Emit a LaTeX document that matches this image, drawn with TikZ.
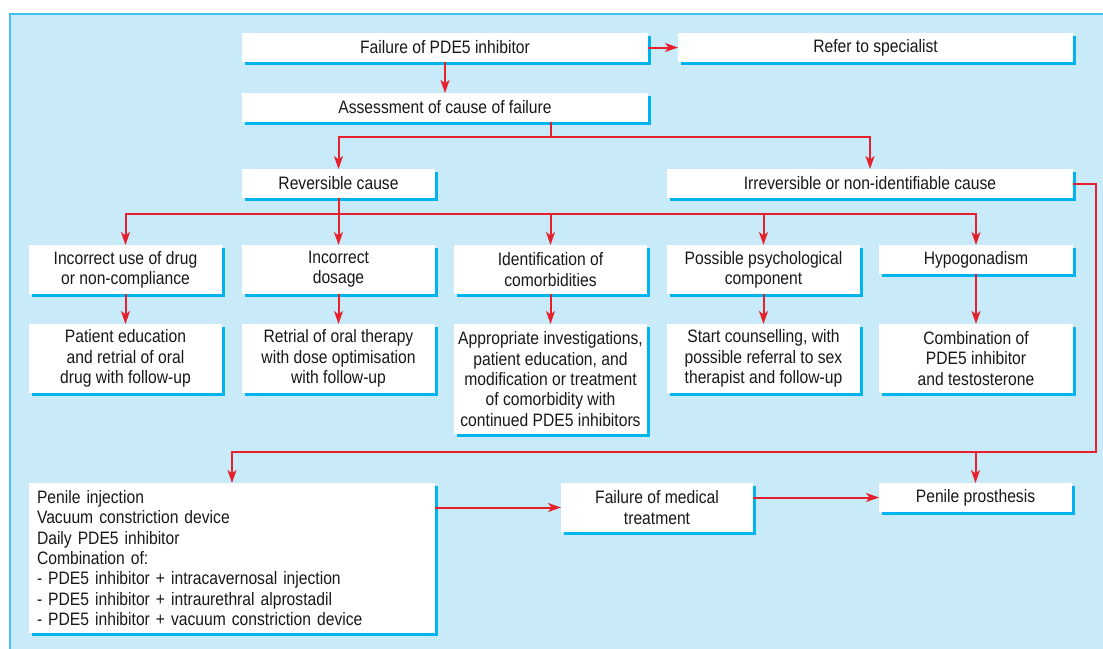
\documentclass[tikz,border=0pt]{standalone}
\usepackage{fontspec}
\setmainfont{Liberation Sans}[FakeStretch=0.87]
\usepackage{tikz}
\usetikzlibrary{calc}
\usetikzlibrary{shadows}
\usetikzlibrary{arrows.meta}
\definecolor{panelblue}{HTML}{C8EAF9}
\definecolor{panelline}{HTML}{3EC3F2}
\definecolor{shadecyan}{HTML}{00B5EF}
\definecolor{flowred}{HTML}{E6202C}
\definecolor{inkgray}{HTML}{1A1718}

\begin{document}
\begin{tikzpicture}[x=1pt,y=-1pt,
    every node/.style={inner sep=0,outer sep=0,text=inkgray,font=\fontsize{18}{20.3}\selectfont},
    box/.style={anchor=north west,fill=white,align=center,drop shadow={shadow xshift=3pt,shadow yshift=-3pt,fill=shadecyan,opacity=1}},
    link/.style={draw=flowred,line width=2pt},
    arr/.style={link,-{Stealth[length=13pt,width=9pt,inset=3.5pt]}}]
    \useasboundingbox (0,0) rectangle (1103,648);
    \clip (0,0) rectangle (1103,648);
    \fill[panelblue] (10,14) rectangle (1120,670);
    \draw[panelline,line width=1.8pt] (10,670) -- (10,14) -- (1120,14);

    \node[box, minimum width=406, minimum height=29](fail) at (242,33) {Failure of PDE5 inhibitor};
    \node[box, minimum width=395, minimum height=29](refer) at (678,33) {Refer to specialist};
    \node[box, minimum width=406, minimum height=29](assess) at (242,93) {Assessment of cause of failure};
    \node[box, minimum width=193, minimum height=29](rev) at (242,169) {Reversible cause};
    \node[box, minimum width=406, minimum height=29](irr) at (667,169) {Irreversible or non-identifiable cause};

    \node[box, minimum width=193, minimum height=49](c1) at (29,245) {Incorrect use of drug\\or non-compliance};
    \node[box, minimum width=193, minimum height=49](c2) at (242,245) {Incorrect\\dosage};
    \node[box, minimum width=193, minimum height=49](c3) at (454,245) {Identification of\\comorbidities};
    \node[box, minimum width=193, minimum height=49](c4) at (667,245) {Possible psychological\\component};
    \node[box, minimum width=194, minimum height=29](c5) at (879,245) {Hypogonadism};

    \node[box, minimum width=193, minimum height=69](t1) at (29,324) {Patient education\\and retrial of oral\\drug with follow-up};
    \node[box, minimum width=193, minimum height=69](t2) at (242,324) {Retrial of oral therapy\\with dose optimisation\\with follow-up};
    \node[box, minimum width=193, minimum height=110](t3) at (454,324) {Appropriate investigations,\\patient education, and\\modification or treatment\\of comorbidity with\\continued PDE5 inhibitors};
    \node[box, minimum width=193, minimum height=69](t4) at (667,324) {Start counselling, with\\possible referral to sex\\therapist and follow-up};
    \node[box, minimum width=194, minimum height=69](t5) at (879,324) {Combination of\\PDE5 inhibitor\\and testosterone};

    \node[box, align=left, text width=390, minimum height=150, inner xsep=8](inj) at (29,483) {Penile injection\\Vacuum constriction device\\Daily PDE5 inhibitor\\Combination of:\\- PDE5 inhibitor + intracavernosal injection\\- PDE5 inhibitor + intraurethral alprostadil\\- PDE5 inhibitor + vacuum constriction device};
    \node[box, minimum width=192, minimum height=49](medf) at (561,483) {Failure of medical\\treatment};
    \node[box, minimum width=193, minimum height=29](pros) at (879,483) {Penile prosthesis};

    \draw[arr] (fail.east) -- (refer.west);
    \draw[arr] (fail.south) -- (assess.north);
    \coordinate (asplit) at ($(assess.south -| c3.north)+(0,15)$);
    \draw[link] (assess.south -| c3.north) -- (asplit);
    \draw[arr] (asplit) -| (rev.north);
    \draw[arr] (asplit) -| (irr.north);

    \coordinate (rsplit) at ($(rev.south)+(0,16)$);
    \draw[link] (rev.south) -- (rsplit);
    \foreach \n in {c1,c2,c3,c4,c5} \draw[arr] (rsplit) -| (\n.north);
    \foreach \i in {1,...,5} \draw[arr] (c\i.south) -- (t\i.north);

    \draw[arr] (irr.east) -- ++(23,0) |- ($(inj.north)+(0,-31)$) -- (inj.north);
    \draw[arr] ($(pros.north)+(0,-31)$) -- (pros.north);
    \draw[arr] (medf.west -| inj.east) -- (medf.west);
    \draw[arr] (pros.west -| medf.east) -- (pros.west);
\end{tikzpicture}
\end{document}
